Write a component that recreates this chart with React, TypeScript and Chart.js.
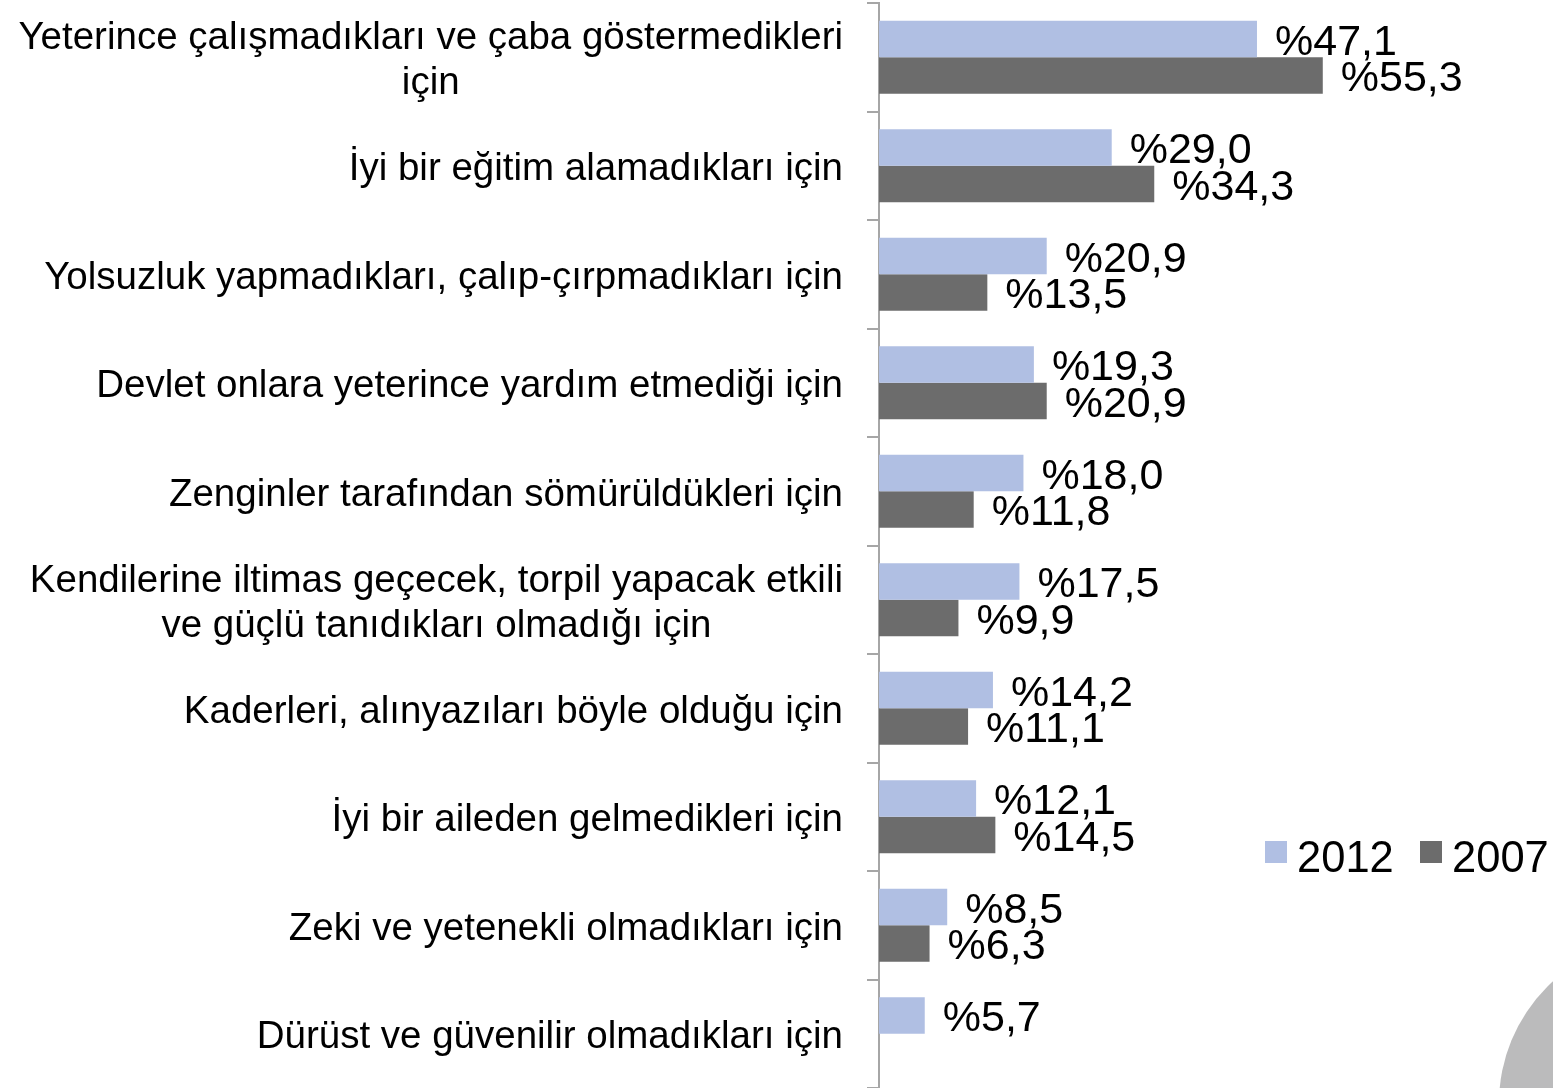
import React, { useEffect, useRef } from "react";
import { Chart, registerables } from "chart.js";

Chart.register(...registerables);

const categories: string[][] = [
  ["Yeterince çalışmadıkları ve çaba göstermedikleri", "için"],
  ["İyi bir eğitim alamadıkları için"],
  ["Yolsuzluk yapmadıkları, çalıp-çırpmadıkları için"],
  ["Devlet onlara yeterince yardım etmediği için"],
  ["Zenginler tarafından sömürüldükleri için"],
  ["Kendilerine iltimas geçecek, torpil yapacak etkili", "ve güçlü tanıdıkları olmadığı için"],
  ["Kaderleri, alınyazıları böyle olduğu için"],
  ["İyi bir aileden gelmedikleri için"],
  ["Zeki ve yetenekli olmadıkları için"],
  ["Dürüst ve güvenilir olmadıkları için"],
];

const seriesNames = ["2012", "2007"];
const values2012: (number | null)[] = [47.1, 29.0, 20.9, 19.3, 18.0, 17.5, 14.2, 12.1, 8.5, 5.7];
const values2007: (number | null)[] = [55.3, 34.3, 13.5, 20.9, 11.8, 9.9, 11.1, 14.5, 6.3, null];

const COLOR_2012 = "#b0bfe3";
const COLOR_2007 = "#6c6c6c";
const AXIS_COLOR = "#a6a6a6";
const FONT = "'Liberation Sans', Arial, sans-serif";

const fmt = (v: number) => "%" + v.toFixed(1).replace(".", ",");

const decorPlugin = {
  id: "decor",
  beforeDraw(chart: any) {
    const ctx = chart.ctx;
    ctx.save();
    ctx.fillStyle = "#bbbbbc";
    ctx.beginPath();
    ctx.arc(1663, 1103, 164, 0, Math.PI * 2);
    ctx.fill();
    ctx.restore();
  },
};

const categoryLabelPlugin = {
  id: "catLabels",
  afterDraw(chart: any) {
    const ctx = chart.ctx;
    const yScale = chart.scales.y;
    const right = 843;
    const lh = 45;
    ctx.save();
    ctx.font = `38.5px ${FONT}`;
    ctx.fillStyle = "#000";
    ctx.textBaseline = "middle";
    ctx.textAlign = "center";
    categories.forEach((lines, i) => {
      const cy = yScale.getPixelForTick(i) + 4;
      const w = Math.max(...lines.map((l) => ctx.measureText(l).width));
      const cx = right - w / 2;
      const y0 = cy - ((lines.length - 1) * lh) / 2;
      lines.forEach((l, j) => ctx.fillText(l, cx, y0 + j * lh));
    });
    ctx.restore();
  },
};

const valueLabelPlugin = {
  id: "valueLabels",
  afterDatasetsDraw(chart: any) {
    const ctx = chart.ctx;
    ctx.save();
    ctx.font = `43px ${FONT}`;
    ctx.fillStyle = "#000";
    ctx.textBaseline = "middle";
    ctx.textAlign = "left";
    chart.data.datasets.forEach((ds: any, di: number) => {
      const meta = chart.getDatasetMeta(di);
      meta.data.forEach((el: any, i: number) => {
        const v = ds.data[i];
        if (v === null || v === undefined) return;
        ctx.fillText(fmt(v), el.x + 18, el.y + 4);
      });
    });
    ctx.restore();
  },
};

const legendPlugin = {
  id: "customLegend",
  afterDraw(chart: any) {
    const ctx = chart.ctx;
    const items = [
      { text: seriesNames[0], color: COLOR_2012, x: 1265 },
      { text: seriesNames[1], color: COLOR_2007, x: 1420 },
    ];
    ctx.save();
    ctx.font = `43.5px ${FONT}`;
    ctx.textBaseline = "alphabetic";
    ctx.textAlign = "left";
    items.forEach((it) => {
      ctx.fillStyle = it.color;
      ctx.fillRect(it.x, 841, 22, 22);
      ctx.fillStyle = "#000";
      ctx.fillText(it.text, it.x + 32, 872);
    });
    ctx.restore();
  },
};

export default function App() {
  const canvasRef = useRef<HTMLCanvasElement | null>(null);

  useEffect(() => {
    if (!canvasRef.current) return;
    const chart = new Chart(canvasRef.current, {
      type: "bar",
      data: {
        labels: categories as any,
        datasets: [
          {
            label: seriesNames[0],
            data: values2012 as any,
            backgroundColor: COLOR_2012,
            borderWidth: 0,
            categoryPercentage: 0.673,
            barPercentage: 1.0,
          },
          {
            label: seriesNames[1],
            data: values2007 as any,
            backgroundColor: COLOR_2007,
            borderWidth: 0,
            categoryPercentage: 0.673,
            barPercentage: 1.0,
          },
        ],
      },
      options: {
        indexAxis: "y",
        responsive: false,
        animation: false,
        devicePixelRatio: 1,
        layout: { padding: { top: 3, bottom: 0, left: 0, right: 32 } },
        plugins: {
          legend: { display: false },
          tooltip: { enabled: false },
        },
        scales: {
          x: {
            display: false,
            min: 0,
            max: 80,
          },
          y: {
            offset: true,
            ticks: { display: false },
            grid: {
              display: true,
              offset: true,
              drawOnChartArea: false,
              drawTicks: true,
              tickLength: 12,
              color: AXIS_COLOR,
              lineWidth: 2,
            },
            border: { display: true, color: AXIS_COLOR, width: 2 },
            afterFit: (scale: any) => {
              scale.width = 879;
            },
          },
        },
      } as any,
      plugins: [decorPlugin, valueLabelPlugin, categoryLabelPlugin, legendPlugin],
    });
    return () => chart.destroy();
  }, []);

  return (
    <div style={{ position: "fixed", left: 0, top: 0, width: 1553, height: 1088, background: "#fff" }}>
      <canvas ref={canvasRef} width={1553} height={1088} style={{ display: "block" }} />
    </div>
  );
}
